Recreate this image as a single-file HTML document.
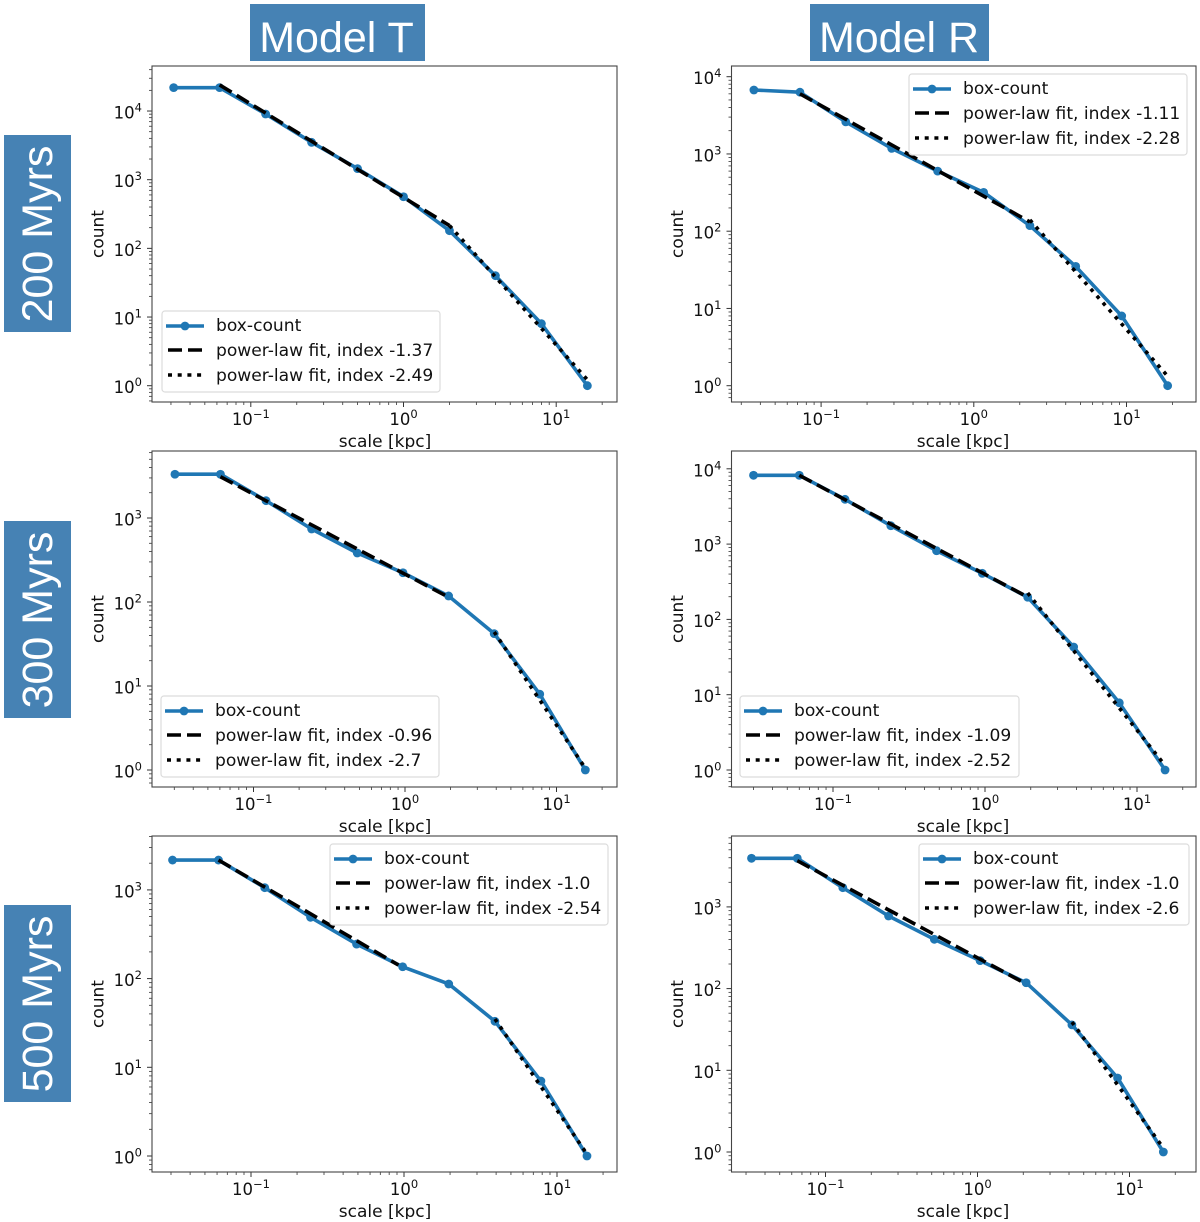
<!DOCTYPE html>
<html>
<head>
<meta charset="utf-8">
<title>Box-count grid</title>
<style>
html,body{margin:0;padding:0;background:#fff;}
svg{display:block;}
.mpl{font-family:"DejaVu Sans",sans-serif;fill:#111;}
.banner{font-family:"Liberation Sans",sans-serif;fill:#fff;font-size:43px;}
</style>
</head>
<body>
<svg id="fig" xmlns="http://www.w3.org/2000/svg" width="1200" height="1222" viewBox="0 0 1200 1222">
<rect x="250" y="4" width="175" height="57" fill="#4682b4"/>
<text class="banner" x="336.5" y="52" text-anchor="middle">Model T</text>
<rect x="810" y="4" width="179" height="57" fill="#4682b4"/>
<text class="banner" x="899" y="52" text-anchor="middle">Model R</text>
<rect x="4" y="135" width="67" height="197" fill="#4682b4"/>
<text class="banner" transform="translate(52,234) rotate(-90)" text-anchor="middle">200 Myrs</text>
<rect x="4" y="521" width="67" height="197" fill="#4682b4"/>
<text class="banner" transform="translate(52,620) rotate(-90)" text-anchor="middle">300 Myrs</text>
<rect x="4" y="905" width="67" height="197" fill="#4682b4"/>
<text class="banner" transform="translate(52,1004) rotate(-90)" text-anchor="middle">500 Myrs</text>
</svg>
<script>
// Tick exponents shared by all panels
const xTickExps = [-1, 0, 1];
const yTicksA = [0, 1, 2, 3, 4];
const yTicksB = [0, 1, 2, 3];

// Legend text
const seriesLabel = "box-count";
const fitLabelPrefix = "power-law fit, index ";

// Model T, 200 Myrs
const scalesT200 = [0.03125, 0.0625, 0.125, 0.25, 0.5, 1, 2, 4, 8, 16];
const countsT200 = [21900, 21900, 9050, 3500, 1450, 565, 181, 40, 8, 1];
const dashXT200 = [0.0625, 2];
const dashYT200 = [24000, 215];
const dotXT200 = [2, 16];
const dotYT200 = [215, 1.22];
const indicesT200 = ["-1.37", "-2.49"];

// Model R, 200 Myrs
const scalesR200 = [0.0363, 0.0727, 0.145, 0.29, 0.58, 1.16, 2.33, 4.65, 9.3, 18.6];
const countsR200 = [6730, 6300, 2600, 1180, 600, 318, 118, 35, 8, 1];
const dashXR200 = [0.0727, 2.33];
const dashYR200 = [6000, 132];
const dotXR200 = [2.33, 18.6];
const dotYR200 = [140, 1.33];
const indicesR200 = ["-1.11", "-2.28"];

// Model T, 300 Myrs
const scalesT300 = [0.0303, 0.0605, 0.121, 0.242, 0.484, 0.97, 1.94, 3.88, 7.75, 15.5];
const countsT300 = [3320, 3320, 1607, 740, 383, 223, 118, 42, 8, 1];
const dashXT300 = [0.0605, 1.94];
const dashYT300 = [3100, 114];
const dotXT300 = [3.88, 15.5];
const dotYT300 = [44, 1.05];
const indicesT300 = ["-0.96", "-2.7"];

// Model R, 300 Myrs
const scalesR300 = [0.03, 0.06, 0.12, 0.24, 0.48, 0.96, 1.91, 3.83, 7.65, 15.3];
const countsR300 = [8200, 8200, 3935, 1755, 817, 409, 197, 43, 7.8, 1];
const dashXR300 = [0.06, 1.91];
const dashYR300 = [8200, 198];
const dotXR300 = [1.91, 15.3];
const dotYR300 = [224, 1.15];
const indicesR300 = ["-1.09", "-2.52"];

// Model T, 500 Myrs
const scalesT500 = [0.0307, 0.0613, 0.123, 0.245, 0.49, 0.98, 1.96, 3.93, 7.85, 15.7];
const countsT500 = [2170, 2170, 1059, 491, 245, 136, 87, 33, 7, 1];
const dashXT500 = [0.0613, 0.92];
const dashYT500 = [2170, 142];
const dotXT500 = [3.93, 15.7];
const dotYT500 = [35, 1.05];
const indicesT500 = ["-1.0", "-2.54"];

// Model R, 500 Myrs
const scalesR500 = [0.0326, 0.0652, 0.13, 0.26, 0.52, 1.04, 2.09, 4.18, 8.35, 16.7];
const countsR500 = [3935, 3935, 1718, 774, 401, 220, 118, 36, 8.05, 1];
const dashXR500 = [0.0652, 2.09];
const dashYR500 = [3675, 114];
const dotXR500 = [4.18, 16.7];
const dotYR500 = [39, 1.12];
const indicesR500 = ["-1.0", "-2.6"];

const svg = document.getElementById('fig');
const NS = 'http://www.w3.org/2000/svg';

function mk(tag, attrs, parent) {
  const el = document.createElementNS(NS, tag);
  for (const k in attrs) el.setAttribute(k, attrs[k]);
  parent.appendChild(el);
  return el;
}

function powerLabel(parent, x, y, exp, anchor, name) {
  const t = mk('text', {x: x, y: y, 'text-anchor': anchor, 'font-size': 16.5, class: 'mpl'}, parent);
  
  
  t.appendChild(document.createTextNode('10'));
  const s = mk('tspan', {dy: -7, 'font-size': 11.5}, t);
  s.textContent = String(exp).replace('-', '\u2212');
}

function drawPanel(p) {
  const g = mk('g', {}, svg);
  
  

  const xPos = v => p.x1 + p.xDec * Math.log10(v);
  const yPos = v => p.y1 - p.yDec * Math.log10(v);
  const linePts = (xs, ys) => xs.map((v, i) => xPos(v).toFixed(2) + ',' + yPos(ys[i]).toFixed(2)).join(' ');

  // clipping to the axes box
  const clipId = 'clip-' + p.name;
  const defs = mk('defs', {}, g);
  const clip = mk('clipPath', {id: clipId}, defs);
  mk('rect', {x: p.l, y: p.t, width: p.r - p.l, height: p.b - p.t}, clip);

  mk('rect', {x: p.l, y: p.t, width: p.r - p.l, height: p.b - p.t, fill: '#fff'}, g);

  // minor ticks
  const minor = mk('g', {stroke: '#333', 'stroke-width': 0.8}, g);
  
  
  for (let d = -3; d <= 4; d++) {
    for (let m = 2; m <= 9; m++) {
      const v = m * Math.pow(10, d);
      const px = xPos(v);
      if (px > p.l && px < p.r) mk('line', {x1: px, x2: px, y1: p.b, y2: p.b + 3}, minor);
      const py = yPos(v);
      if (py > p.t && py < p.b) mk('line', {x1: p.l, x2: p.l - 3, y1: py, y2: py}, minor);
    }
  }

  // x major ticks and labels
  p.xTicks.forEach(e => {
    const px = xPos(Math.pow(10, e));
    const tick = mk('line', {x1: px, x2: px, y1: p.b, y2: p.b + 5, stroke: '#333', 'stroke-width': 1}, g);
    
    
    powerLabel(g, px, p.b + 23, e, 'middle', 'x-tick-label');
  });

  // y major ticks and labels
  p.yTicks.forEach(e => {
    const py = yPos(Math.pow(10, e));
    const tick = mk('line', {x1: p.l, x2: p.l - 5, y1: py, y2: py, stroke: '#333', 'stroke-width': 1}, g);
    
    
    powerLabel(g, p.l - 10, py + 7.5, e, 'end', 'y-tick-label');
  });

  // axis titles
  const xt = mk('text', {x: p.xLabelX, y: p.b + 45, 'text-anchor': 'middle', 'font-size': 17, class: 'mpl'}, g);
  
  
  xt.textContent = 'scale [kpc]';
  mk('rect', {x: p.xLabelX - 60, y: p.b + 47, width: 120, height: 3, fill: '#fff'}, g);
  const cy = (p.t + p.b) / 2;
  const yt = mk('text', {transform: 'translate(' + (p.l - 48.5) + ',' + cy + ') rotate(-90)', 'text-anchor': 'middle', 'font-size': 17, class: 'mpl'}, g);
  
  
  yt.textContent = 'count';

  // series
  const plot = mk('g', {'clip-path': 'url(#' + clipId + ')'}, g);
  const line = mk('polyline', {points: linePts(p.xs, p.ys), fill: 'none', stroke: '#1f77b4', 'stroke-width': 3.6, 'stroke-linejoin': 'round'}, plot);
  
  
  p.xs.forEach((v, i) => {
    const dot = mk('circle', {cx: xPos(v), cy: yPos(p.ys[i]), r: 4.4, fill: '#1f77b4'}, plot);
    
    
  });
  const dash = mk('polyline', {points: linePts(p.dashX, p.dashY), fill: 'none', stroke: '#000', 'stroke-width': 3.6, 'stroke-dasharray': '14 6'}, plot);
  
  
  const dot = mk('polyline', {points: linePts(p.dotX, p.dotY), fill: 'none', stroke: '#000', 'stroke-width': 3.6, 'stroke-dasharray': '3.6 5.6'}, plot);
  
  

  // frame
  const frame = mk('rect', {x: p.l, y: p.t, width: p.r - p.l, height: p.b - p.t, fill: 'none', stroke: '#444', 'stroke-width': 1.1}, g);
  
  

  // legend
  const lg = mk('g', {}, g);
  
  
  mk('rect', {x: p.lgX, y: p.lgY, width: p.lgW, height: 81, rx: 3, fill: '#fff', 'fill-opacity': 0.85, stroke: '#dcdcdc', 'stroke-width': 1.2}, lg);
  const hx1 = p.lgX + 5, hx2 = p.lgX + 41, tx = p.lgX + 54;
  const r1 = p.lgY + 15, r2 = p.lgY + 39, r3 = p.lgY + 64;
  const h1 = mk('line', {x1: hx1 - 1, x2: hx2 + 1, y1: r1, y2: r1, stroke: '#1f77b4', 'stroke-width': 3.6}, lg);
  
  
  mk('circle', {cx: (hx1 + hx2) / 2, cy: r1, r: 4.4, fill: '#1f77b4'}, lg);
  const h2 = mk('line', {x1: hx1 + 1, x2: hx2 - 1, y1: r2, y2: r2, stroke: '#000', 'stroke-width': 3.6, 'stroke-dasharray': '14 6'}, lg);
  
  
  const h3 = mk('line', {x1: hx1 + 1, x2: hx2, y1: r3, y2: r3, stroke: '#000', 'stroke-width': 3.6, 'stroke-dasharray': '4 5.7'}, lg);
  
  
  const l1 = mk('text', {x: tx, y: p.lgY + 20, 'font-size': 17.1, class: 'mpl'}, lg);
  
  
  l1.textContent = seriesLabel;
  const l2 = mk('text', {x: tx, y: p.lgY + 45, 'font-size': 17.1, class: 'mpl'}, lg);
  
  
  l2.textContent = fitLabelPrefix + p.indices[0];
  const l3 = mk('text', {x: tx, y: p.lgY + 70, 'font-size': 17.1, class: 'mpl'}, lg);
  
  
  l3.textContent = fitLabelPrefix + p.indices[1];
}

drawPanel({name: 'panel-model-t-200', l: 152, r: 617, t: 66, b: 402, x1: 403.5, xDec: 152.7, y1: 385.7, yDec: 68.67, xLabelX: 385,
  xs: scalesT200, ys: countsT200, dashX: dashXT200, dashY: dashYT200, dotX: dotXT200, dotY: dotYT200, indices: indicesT200,
  xTicks: xTickExps, yTicks: yTicksA, lgX: 162, lgY: 311, lgW: 278});
drawPanel({name: 'panel-model-r-200', l: 731.5, r: 1196, t: 66, b: 402, x1: 973.8, xDec: 152.7, y1: 385.7, yDec: 77.25, xLabelX: 963,
  xs: scalesR200, ys: countsR200, dashX: dashXR200, dashY: dashYR200, dotX: dotXR200, dotY: dotYR200, indices: indicesR200,
  xTicks: xTickExps, yTicks: yTicksA, lgX: 909, lgY: 74, lgW: 278});
drawPanel({name: 'panel-model-t-300', l: 152, r: 617, t: 451, b: 787, x1: 405, xDec: 151.5, y1: 770, yDec: 84, xLabelX: 385,
  xs: scalesT300, ys: countsT300, dashX: dashXT300, dashY: dashYT300, dotX: dotXT300, dotY: dotYT300, indices: indicesT300,
  xTicks: xTickExps, yTicks: yTicksB, lgX: 161, lgY: 696, lgW: 278});
drawPanel({name: 'panel-model-r-300', l: 731.5, r: 1196, t: 451, b: 787, x1: 985, xDec: 152, y1: 770, yDec: 75.3, xLabelX: 963,
  xs: scalesR300, ys: countsR300, dashX: dashXR300, dashY: dashYR300, dotX: dotXR300, dotY: dotYR300, indices: indicesR300,
  xTicks: xTickExps, yTicks: yTicksA, lgX: 740, lgY: 696, lgW: 279});
drawPanel({name: 'panel-model-t-500', l: 152, r: 617, t: 836, b: 1172, x1: 404, xDec: 153, y1: 1156, yDec: 88.7, xLabelX: 385,
  xs: scalesT500, ys: countsT500, dashX: dashXT500, dashY: dashYT500, dotX: dotXT500, dotY: dotYT500, indices: indicesT500,
  xTicks: xTickExps, yTicks: yTicksB, lgX: 330, lgY: 844, lgW: 278});
drawPanel({name: 'panel-model-r-500', l: 731.5, r: 1196, t: 836, b: 1172, x1: 977.5, xDec: 152, y1: 1152, yDec: 81.7, xLabelX: 963,
  xs: scalesR500, ys: countsR500, dashX: dashXR500, dashY: dashYR500, dotX: dotXR500, dotY: dotYR500, indices: indicesR500,
  xTicks: xTickExps, yTicks: yTicksB, lgX: 919, lgY: 844, lgW: 270});
</script>
</body>
</html>
